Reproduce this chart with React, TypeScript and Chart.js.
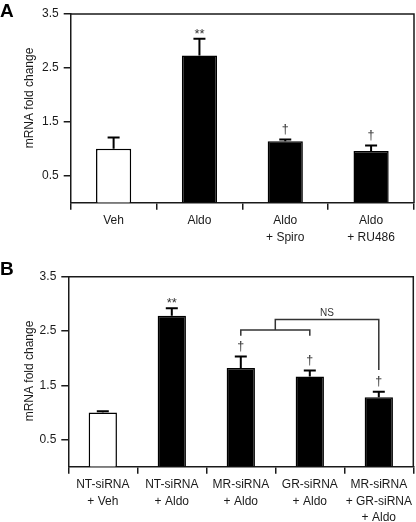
import React, { useEffect, useRef } from "react";
import { Chart, registerables } from "chart.js";

Chart.register(...registerables);

// ---------- data ----------
const A_CATEGORIES = [["Veh"], ["Aldo"], ["Aldo", "+ Spiro"], ["Aldo", "+ RU486"]];
const A_MEANS = [1.0, 2.73, 1.14, 0.96];
const A_ERRORS = [0.21, 0.31, 0.03, 0.1];
const A_MARKS = ["", "**", "†", "†"];
const A_FILLS = ["#ffffff", "#000000", "#000000", "#000000"];

const B_CATEGORIES = [
  ["NT-siRNA", "+ Veh"],
  ["NT-siRNA", "+ Aldo"],
  ["MR-siRNA", "+ Aldo"],
  ["GR-siRNA", "+ Aldo"],
  ["MR-siRNA", "+ GR-siRNA", "+ Aldo"],
];
const B_MEANS = [1.0, 2.78, 1.82, 1.66, 1.28];
const B_ERRORS = [0.02, 0.14, 0.21, 0.11, 0.1];
const B_MARKS = ["", "**", "†", "†", "†"];
const B_FILLS = ["#ffffff", "#000000", "#000000", "#000000", "#000000"];

const Y_TICKS = [0.5, 1.5, 2.5, 3.5];
const Y_MIN = 0;
const Y_MAX = 3.5;
const Y_TITLE = "mRNA fold change";

// NS bracket (panel B): bars joined, and bracket levels in data units
const NS_BARS = [2, 3, 4];
const NS_LEVELS = [2.52, 2.41, 2.71, 1.78]; // lower bar, lower legs, upper bar, far leg
const NS_LABEL = "NS";

// ---------- style ----------
const FONT = "'Liberation Sans', Arial, sans-serif";
const INK = "#1a1a1a";

type PanelProps = {
  letter: string;
  categories: string[][];
  means: number[];
  errors: number[];
  marks: string[];
  fills: string[];
  top: number;
  height: number;
  padTop: number;
  padRight: number;
  yWidth: number;
  xHeight: number;
  titleX: number;
  titleY: number;
  letterY: number;
  bracket: boolean;
};

function Panel(p: PanelProps) {
  const ref = useRef<HTMLCanvasElement | null>(null);

  useEffect(() => {
    const canvas = ref.current;
    if (!canvas) return;

    const overlay = {
      id: "overlay" + p.letter,
      afterDatasetsDraw(chart: any) {
        const ctx = chart.ctx;
        const area = chart.chartArea;
        const ys = chart.scales.y;
        const meta = chart.getDatasetMeta(0);
        ctx.save();
        // frame top & right
        ctx.strokeStyle = INK;
        ctx.lineWidth = 1.5;
        ctx.beginPath();
        ctx.moveTo(area.left, area.top);
        ctx.lineTo(area.right, area.top);
        ctx.lineTo(area.right, area.bottom);
        ctx.stroke();

        // error bars + marks
        meta.data.forEach((el: any, i: number) => {
          const x = el.x;
          const yBar = ys.getPixelForValue(p.means[i]);
          const yTop = ys.getPixelForValue(p.means[i] + p.errors[i]);
          ctx.strokeStyle = "#000";
          ctx.lineWidth = 2;
          ctx.beginPath();
          ctx.moveTo(x, yBar);
          ctx.lineTo(x, yTop);
          ctx.moveTo(x - 6, yTop);
          ctx.lineTo(x + 6, yTop);
          ctx.stroke();
          const m = p.marks[i];
          if (m) {
            ctx.fillStyle = "#333";
            ctx.font = m === "**" ? `13px ${FONT}` : `12.5px ${FONT}`;
            ctx.textAlign = "center";
            ctx.textBaseline = "alphabetic";
            const tm = ctx.measureText(m);
            const desc = tm.actualBoundingBoxDescent || 0;
            ctx.fillText(m, x, yTop - 5 - desc);
          }
        });

        // NS bracket
        if (p.bracket) {
          const xl = meta.data[NS_BARS[0]].x;
          const xr = meta.data[NS_BARS[1]].x;
          const xf = meta.data[NS_BARS[2]].x;
          const yLow = ys.getPixelForValue(NS_LEVELS[0]);
          const yLeg = ys.getPixelForValue(NS_LEVELS[1]);
          const yUp = ys.getPixelForValue(NS_LEVELS[2]);
          const yFar = ys.getPixelForValue(NS_LEVELS[3]);
          const xm = (xl + xr) / 2;
          ctx.strokeStyle = "#333";
          ctx.lineWidth = 1.5;
          ctx.beginPath();
          ctx.moveTo(xl, yLeg);
          ctx.lineTo(xl, yLow);
          ctx.lineTo(xr, yLow);
          ctx.lineTo(xr, yLeg);
          ctx.moveTo(xm, yLow);
          ctx.lineTo(xm, yUp);
          ctx.lineTo(xf, yUp);
          ctx.lineTo(xf, yFar);
          ctx.stroke();
          ctx.fillStyle = "#333";
          ctx.font = `10px ${FONT}`;
          ctx.textAlign = "center";
          ctx.textBaseline = "alphabetic";
          ctx.fillText(NS_LABEL, (xm + xf) / 2, yUp - 4);
        }
        ctx.restore();
      },
      afterDraw(chart: any) {
        const ctx = chart.ctx;
        ctx.save();
        // y title
        ctx.fillStyle = INK;
        ctx.font = `12px ${FONT}`;
        ctx.translate(p.titleX, p.titleY);
        ctx.rotate(-Math.PI / 2);
        ctx.textAlign = "center";
        ctx.textBaseline = "middle";
        ctx.fillText(Y_TITLE, 0, 0);
        ctx.restore();
        // panel letter
        ctx.save();
        ctx.fillStyle = "#000";
        ctx.font = `bold 19px ${FONT}`;
        ctx.textAlign = "left";
        ctx.textBaseline = "alphabetic";
        ctx.fillText(p.letter, 0, p.letterY);
        ctx.restore();
      },
    };

    const chart = new Chart(canvas, {
      type: "bar",
      data: {
        labels: p.categories,
        datasets: [
          {
            data: p.means,
            backgroundColor: p.fills,
            borderColor: "#000",
            borderWidth: 1.5,
            categoryPercentage: 1,
            barPercentage: 0.41,
          },
        ],
      },
      options: {
        animation: false,
        responsive: false,
        devicePixelRatio: 1,
        layout: { padding: { top: p.padTop, right: p.padRight, left: 0, bottom: 0 } },
        plugins: { legend: { display: false }, tooltip: { enabled: false } },
        scales: {
          x: {
            offset: true,
            grid: {
              display: true,
              offset: true,
              drawOnChartArea: false,
              drawTicks: true,
              tickLength: 7,
              color: INK,
              lineWidth: 1.5,
            },
            border: { display: true, color: INK, width: 1.5 },
            ticks: {
              color: INK,
              font: { family: FONT, size: 12, lineHeight: "16.5px" },
              padding: 3,
              maxRotation: 0,
              autoSkip: false,
            },
            afterFit: (s: any) => {
              s.height = p.xHeight;
            },
          },
          y: {
            min: Y_MIN,
            max: Y_MAX,
            afterBuildTicks: (s: any) => {
              s.ticks = Y_TICKS.map((v) => ({ value: v }));
            },
            grid: {
              drawOnChartArea: false,
              drawTicks: true,
              tickLength: 7,
              color: INK,
              lineWidth: 1.5,
            },
            border: { display: true, color: INK, width: 1.5 },
            ticks: {
              color: INK,
              font: { family: FONT, size: 12 },
              padding: 5,
              callback: (v: any) => Number(v).toFixed(1),
            },
            afterFit: (s: any) => {
              s.width = p.yWidth;
            },
          },
        },
      },
      plugins: [overlay],
    } as any);

    return () => chart.destroy();
  }, []);

  return (
    <div style={{ position: "absolute", left: 0, top: p.top, width: 416, height: p.height }}>
      <canvas ref={ref} width={416} height={p.height} style={{ display: "block" }} />
    </div>
  );
}

export default function App() {
  return (
    <div style={{ position: "absolute", left: 0, top: 0, width: 416, height: 522, background: "#fff" }}>
      <Panel
        letter="A"
        categories={A_CATEGORIES}
        means={A_MEANS}
        errors={A_ERRORS}
        marks={A_MARKS}
        fills={A_FILLS}
        top={0}
        height={250}
        padTop={14}
        padRight={2}
        yWidth={70.7}
        xHeight={47.3}
        titleX={30}
        titleY={98}
        letterY={17}
        bracket={false}
      />
      <Panel
        letter="B"
        categories={B_CATEGORIES}
        means={B_MEANS}
        errors={B_ERRORS}
        marks={B_MARKS}
        fills={B_FILLS}
        top={255}
        height={267}
        padTop={21.7}
        padRight={2.7}
        yWidth={68.3}
        xHeight={55.3}
        titleX={30}
        titleY={116}
        letterY={19.5}
        bracket={true}
      />
    </div>
  );
}
